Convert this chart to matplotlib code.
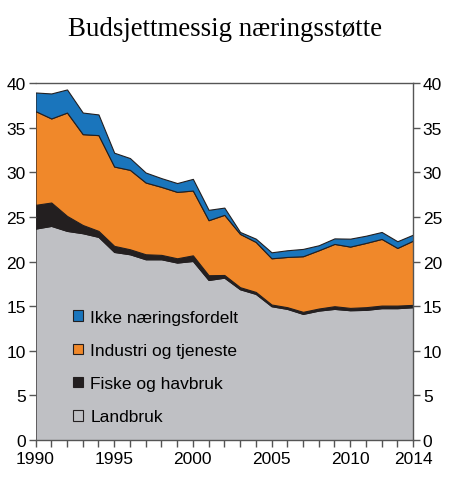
import matplotlib
matplotlib.use("Agg")
import matplotlib.pyplot as plt
from matplotlib.patches import Patch
import numpy as np

years = list(range(1990, 2015))
# cumulative tops
landbruk = [23.7, 24.0, 23.44, 23.18, 22.77, 21.08, 20.82, 20.26, 20.26, 19.89, 20.07, 17.94, 18.2,
            16.9, 16.38, 15.0, 14.7, 14.14, 14.51, 14.7, 14.55, 14.59, 14.78, 14.78, 14.89]
fiske_top = [26.36, 26.62, 25.12, 24.1, 23.44, 21.76, 21.38, 20.82, 20.75, 20.37, 20.7, 18.47, 18.5,
             17.13, 16.6, 15.19, 14.89, 14.37, 14.74, 15.0, 14.81, 14.89, 15.07, 15.07, 15.15]
industri_top = [36.86, 36.04, 36.7, 34.28, 34.17, 30.65, 30.28, 28.86, 28.37, 27.81, 27.96, 24.64, 25.24,
                23.1, 22.2, 20.37, 20.52, 20.6, 21.27, 21.98, 21.68, 22.09, 22.54, 21.53, 22.35]
total_top = [38.95, 38.84, 39.29, 36.7, 36.49, 32.2, 31.6, 29.98, 29.35, 28.8, 29.27, 25.8, 26.05,
             23.32, 22.57, 21.04, 21.27, 21.42, 21.83, 22.6, 22.57, 22.9, 23.32, 22.28, 23.02]

fiske = [a - b for a, b in zip(fiske_top, landbruk)]
industri = [a - b for a, b in zip(industri_top, fiske_top)]
ikke = [a - b for a, b in zip(total_top, industri_top)]

labels = ["Landbruk", "Fiske og havbruk", "Industri og tjeneste", "Ikke næringsfordelt"]
colors = ["#bfc0c4", "#231f20", "#f0882a", "#1a75bc"]
xticks = [1990, 1995, 2000, 2005, 2010, 2014]
yticks = [0, 5, 10, 15, 20, 25, 30, 35, 40]

plt.rcParams['font.family'] = ['Liberation Sans', 'DejaVu Sans']
fig = plt.figure(figsize=(4.5, 4.89), dpi=100)
ax = fig.add_axes([0.079, 0.098, 0.839, 0.730])

ax.stackplot(years, landbruk, fiske, industri, ikke, colors=colors,
             edgecolor="#231f20", linewidth=0.8)

ax.set_xlim(1990, 2014)
ax.set_ylim(0, 40)
ax.set_xticks(years, minor=True)
ax.set_xticks(xticks)
ax.set_yticks(yticks)
ax.tick_params(axis='x', which='both', direction='out', length=5, width=1, color="#555555",
               labelsize=12.5, pad=3)
ax.tick_params(axis='y', which='both', direction='out', length=5, width=1, color="#555555",
               labelsize=12.5, left=True, right=True, labelleft=True, labelright=True, pad=2)
for s in ['left', 'right', 'top', 'bottom']:
    ax.spines[s].set_color("#555555")
    ax.spines[s].set_linewidth(1)
ax.spines['left'].set_visible(False)

handles = [Patch(facecolor=c, edgecolor="#231f20", linewidth=0.8) for c in colors]
leg = ax.legend(handles[::-1], labels[::-1], loc='lower left', bbox_to_anchor=(0.058, 0.0),
                frameon=False, fontsize=12.5, handlelength=0.55, handleheight=0.55,
                handletextpad=0.45, labelspacing=1.05)

fig.text(0.5, 0.94, "Budsjettmessig næringsstøtte", ha='center', va='center',
         fontsize=19.4, family=['Liberation Serif', 'DejaVu Serif'])

fig.savefig("out.png", dpi=100)
